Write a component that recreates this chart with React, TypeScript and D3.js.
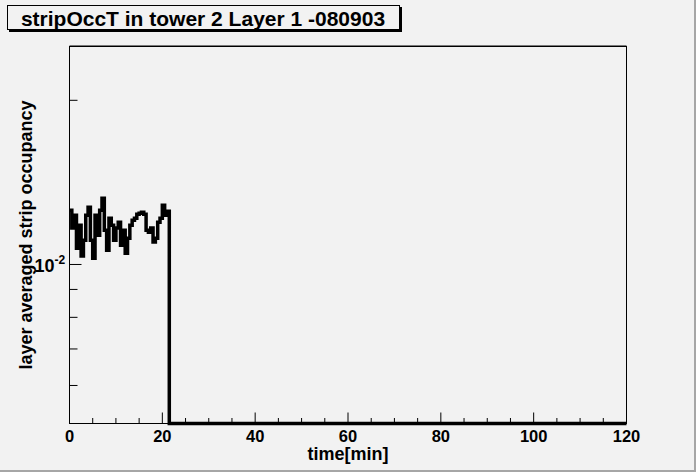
import * as d3 from 'd3';

// ROOT-style histogram: layer averaged strip occupancy vs time, 0.5 min bins
const binWidth = 0.5;
const occupancy = [
  0.01257, 0.01166, 0.01231, 0.01071, 0.0118, 0.01036, 0.01108, 0.01231, 0.01273, 0.01108,
  0.01027, 0.01231, 0.01131, 0.01257, 0.01322, 0.01156, 0.01062, 0.01216, 0.0118, 0.01108,
  0.01166, 0.01195, 0.01085, 0.01156, 0.01049, 0.01117, 0.0118, 0.01205, 0.01216, 0.01236,
  0.01242, 0.01247, 0.01236, 0.01156, 0.01146, 0.01166, 0.01099, 0.01117, 0.01195, 0.01216,
  0.01284, 0.01231, 0.01252,
];
const xDomain = [0, 120];
const yDomain = [5.11e-3, 2.51e-2];
const xMajorTicks = [0, 20, 40, 60, 80, 100, 120];
const xMinorTicks = d3.range(0, 121, 5).filter((t) => t % 20 !== 0);
const yMajorTicks = [1e-2];
const yMinorTicks = [6e-3, 7e-3, 8e-3, 9e-3, 2e-2];

const W = 696;
const H = 472;
const FRAME = { left: 69.5, top: 46.5, right: 626.5, bottom: 423.5 };
const BG = '#f2f2f2';
const FONT = '"Liberation Sans", Arial, Helvetica, sans-serif';

export default function App() {
  const x = d3.scaleLinear().domain(xDomain).range([FRAME.left, FRAME.right]);
  const y = d3.scaleLog().domain(yDomain).range([FRAME.bottom, FRAME.top]);

  // step outline of the histogram, zero bins go down to the frame bottom
  const pts: [number, number][] = [];
  occupancy.forEach((v, i) => {
    pts.push([x(i * binWidth), y(v)]);
    pts.push([x((i + 1) * binWidth), y(v)]);
  });
  const lastEdge = occupancy.length * binWidth;
  pts.push([x(lastEdge), FRAME.bottom]);
  pts.push([x(xDomain[1]), FRAME.bottom]);
  const histPath = d3.line()(pts);

  return (
    <svg
      width={W}
      height={H}
      style={{ position: 'absolute', left: 0, top: 0, display: 'block' }}
      fontFamily={FONT}
    >
      <rect x={0} y={0} width={W} height={H} fill={BG} />
      {/* canvas bevel */}
      <rect x={W - 2} y={0} width={2} height={H} fill="#a6a6a6" />
      <rect x={0} y={H - 2} width={W} height={2} fill="#a6a6a6" />

      {/* frame */}
      <rect
        x={FRAME.left}
        y={FRAME.top}
        width={FRAME.right - FRAME.left}
        height={FRAME.bottom - FRAME.top}
        fill={BG}
        stroke="#000"
        strokeWidth={1}
      />
      <line x1={FRAME.left} x2={FRAME.right} y1={FRAME.top - 0.5} y2={FRAME.top - 0.5} stroke="#000" strokeWidth={1} />

      {/* x ticks */}
      {xMajorTicks.map((t) => (
        <g key={`xM${t}`}>
          <line x1={x(t)} x2={x(t)} y1={FRAME.bottom} y2={FRAME.bottom - 11} stroke="#000" />
          <text x={x(t)} y={442} textAnchor="middle" fontSize={16.5} fontWeight="bold">
            {t}
          </text>
        </g>
      ))}
      {xMinorTicks.map((t) => (
        <line key={`xm${t}`} x1={x(t)} x2={x(t)} y1={FRAME.bottom} y2={FRAME.bottom - 5.5} stroke="#000" />
      ))}

      {/* y ticks */}
      {yMajorTicks.map((t) => (
        <g key={`yM${t}`}>
          <line x1={FRAME.left} x2={FRAME.left + 12} y1={y(t)} y2={y(t)} stroke="#000" />
          <text x={FRAME.left - 15} y={y(t) + 8} textAnchor="end" fontSize={18} fontWeight="bold">
            10
          </text>
          <text x={FRAME.left - 15} y={y(t) - 0.5} textAnchor="start" fontSize={12} fontWeight="bold">
            -2
          </text>
        </g>
      ))}
      {yMinorTicks.map((t) => (
        <line key={`ym${t}`} x1={FRAME.left} x2={FRAME.left + 8} y1={y(t)} y2={y(t)} stroke="#000" />
      ))}

      {/* histogram */}
      <path d={histPath ?? ''} fill="none" stroke="#000" strokeWidth={3.5} strokeLinejoin="miter" />

      {/* axis titles */}
      <text
        x={(FRAME.left + FRAME.right) / 2}
        y={460}
        textAnchor="middle"
        fontSize={18}
        fontWeight="bold"
      >
        time[min]
      </text>
      <text
        transform={`translate(32,${(FRAME.top + FRAME.bottom) / 2}) rotate(-90)`}
        textAnchor="middle"
        fontSize={18}
        fontWeight="bold"
      >
        layer averaged strip occupancy
      </text>

      {/* title pave with shadow */}
      <rect x={9} y={7} width={393} height={25} fill="#000" />
      <rect x={7.5} y={5.5} width={392} height={24} fill={BG} stroke="#000" strokeWidth={1} />
      <text x={203} y={26} textAnchor="middle" fontSize={21} fontWeight="bold">
        stripOccT in tower 2 Layer 1 -080903
      </text>
    </svg>
  );
}
